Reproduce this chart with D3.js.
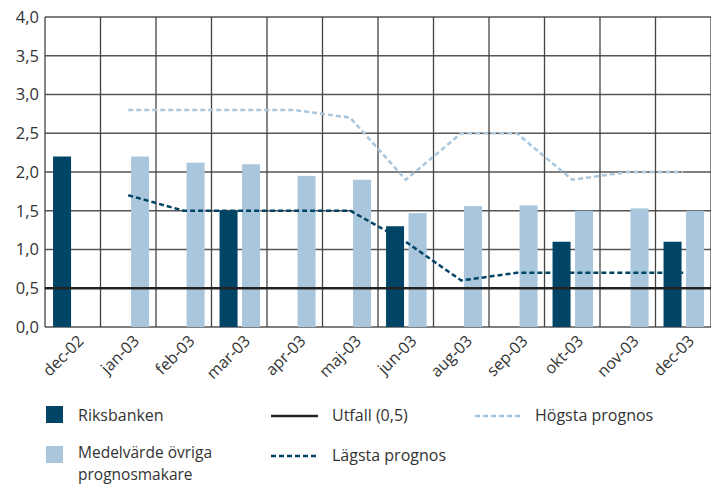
<!DOCTYPE html>
<html>
<head>
<meta charset="utf-8">
<script src="https://cdn.jsdelivr.net/npm/d3@7"></script>
<style>
  body { margin: 0; background: #fff; }
  text { font-family: "Open Sans", sans-serif; fill: #333; }
</style>
</head>
<body>
<div id="chart"></div>
<script>
// chart data
var months = ["dec-02", "jan-03", "feb-03", "mar-03", "apr-03", "maj-03",
  "jun-03", "aug-03", "sep-03", "okt-03", "nov-03", "dec-03"];
var riksbanken = [2.2, null, null, 1.5, null, null, 1.3, null, null, 1.1, null, 1.1];
var medel = [null, 2.2, 2.12, 2.1, 1.95, 1.9, 1.47, 1.56, 1.57, 1.5, 1.53, 1.5];
var hogsta = [null, 2.8, 2.8, 2.8, 2.8, 2.7, 1.9, 2.5, 2.5, 1.9, 2.0, 2.0];
var lagsta = [null, 1.7, 1.5, 1.5, 1.5, 1.5, 1.1, 0.6, 0.7, 0.7, 0.7, 0.7];
var utfall = 0.5;
var yTicks = [0, 0.5, 1, 1.5, 2, 2.5, 3, 3.5, 4];

var darkBlue = "#004466",
  lightBlue = "#a9c6dc";

var margin = { top: 17, right: 0, bottom: 157, left: 45 },
  width = 711 - margin.left - margin.right,
  height = 484 - margin.top - margin.bottom;

var svg = d3.select("#chart")
  .append("svg")
  .attr("width", 711)
  .attr("height", 484);

var g = svg.append("g")
  .attr("transform", "translate(" + margin.left + "," + margin.top + ")");

var x = d3.scaleBand()
  .domain(months)
  .range([0, width])
  .padding(0);

var bw = x.bandwidth();
var xSub = d3.scaleBand()
  .domain(["rb", "med"])
  .range([bw * 0.145, bw * 0.875])
  .paddingInner(0.2);

var y = d3.scaleLinear()
  .domain([0, 4])
  .range([height, 0]);

// horizontal grid
g.selectAll(".hgrid")
  .data(yTicks)
  .enter()
  .append("line")
  .attr("x1", 0)
  .attr("x2", width)
  .attr("y1", function (d) { return y(d); })
  .attr("y2", function (d) { return y(d); })
  .attr("stroke", "#555")
  .attr("stroke-width", 1.3);

// vertical grid at band edges
var edges = months.map(function (m) { return x(m); }).concat([width]);
g.selectAll(".vgrid")
  .data(edges)
  .enter()
  .append("line")
  .attr("x1", function (d) { return d; })
  .attr("x2", function (d) { return d; })
  .attr("y1", 0)
  .attr("y2", height)
  .attr("stroke", "#444")
  .attr("stroke-width", 1.3);

// bars
var barData = [];
months.forEach(function (m, i) {
  if (riksbanken[i] != null) barData.push({ m: m, k: "rb", v: riksbanken[i] });
  if (medel[i] != null) barData.push({ m: m, k: "med", v: medel[i] });
});

g.selectAll(".bar")
  .data(barData)
  .enter()
  .append("rect")
  .attr("x", function (d) { return x(d.m) + xSub(d.k); })
  .attr("width", xSub.bandwidth())
  .attr("y", function (d) { return y(d.v); })
  .attr("height", function (d) { return y(0) - y(d.v); })
  .attr("fill", function (d) { return d.k == "rb" ? darkBlue : lightBlue; });

// utfall line
g.append("line")
  .attr("x1", 0)
  .attr("x2", width)
  .attr("y1", y(utfall))
  .attr("y2", y(utfall))
  .attr("stroke", "#222")
  .attr("stroke-width", 2.6);

// forecast lines
var line = d3.line()
  .defined(function (d) { return d != null; })
  .x(function (d, i) { return x(months[i]) + bw / 2; })
  .y(function (d) { return y(d); });

g.append("path")
  .attr("d", line(hogsta))
  .attr("fill", "none")
  .attr("stroke", lightBlue)
  .attr("stroke-width", 2.5)
  .attr("stroke-dasharray", "5,3");

g.append("path")
  .attr("d", line(lagsta))
  .attr("fill", "none")
  .attr("stroke", darkBlue)
  .attr("stroke-width", 2.5)
  .attr("stroke-dasharray", "5,3");

// y axis labels
g.selectAll(".ylab")
  .data(yTicks)
  .enter()
  .append("text")
  .attr("x", -6)
  .attr("y", function (d) { return y(d); })
  .attr("dy", "0.35em")
  .attr("text-anchor", "end")
  .style("font-size", "16.5px")
  .text(function (d) { return d3.format(".1f")(d).replace(".", ","); });

// x axis labels, rotated
g.selectAll(".xlab")
  .data(months)
  .enter()
  .append("text")
  .attr("transform", function (d) {
    return "translate(" + (x(d) + bw / 2 + 12) + "," + (height + 15) + ") rotate(-45)";
  })
  .attr("text-anchor", "end")
  .style("font-size", "16px")
  .text(function (d) { return d; });

// legend
var legend = svg.append("g");

legend.append("rect")
  .attr("x", 46).attr("y", 406).attr("width", 17).attr("height", 17)
  .attr("fill", darkBlue);
legend.append("text")
  .attr("x", 78).attr("y", 421)
  .style("font-size", "16px")
  .text("Riksbanken");

legend.append("rect")
  .attr("x", 46).attr("y", 446).attr("width", 17).attr("height", 17)
  .attr("fill", lightBlue);
legend.append("text")
  .attr("x", 78).attr("y", 458)
  .style("font-size", "15.5px")
  .text("Medelvärde övriga");
legend.append("text")
  .attr("x", 78).attr("y", 479.5)
  .style("font-size", "15.5px")
  .text("prognosmakare");

legend.append("line")
  .attr("x1", 271).attr("x2", 318).attr("y1", 416).attr("y2", 416)
  .attr("stroke", "#222").attr("stroke-width", 2.6);
legend.append("text")
  .attr("x", 332).attr("y", 421)
  .style("font-size", "16px")
  .text("Utfall (0,5)");

legend.append("line")
  .attr("x1", 271).attr("x2", 318).attr("y1", 456).attr("y2", 456)
  .attr("stroke", darkBlue).attr("stroke-width", 2.5)
  .attr("stroke-dasharray", "5,3");
legend.append("text")
  .attr("x", 332).attr("y", 461)
  .style("font-size", "16px")
  .text("Lägsta prognos");

legend.append("line")
  .attr("x1", 475).attr("x2", 522).attr("y1", 416).attr("y2", 416)
  .attr("stroke", lightBlue).attr("stroke-width", 2.5)
  .attr("stroke-dasharray", "5,3");
legend.append("text")
  .attr("x", 535).attr("y", 421)
  .style("font-size", "16px")
  .text("Högsta prognos");
</script>
</body>
</html>
